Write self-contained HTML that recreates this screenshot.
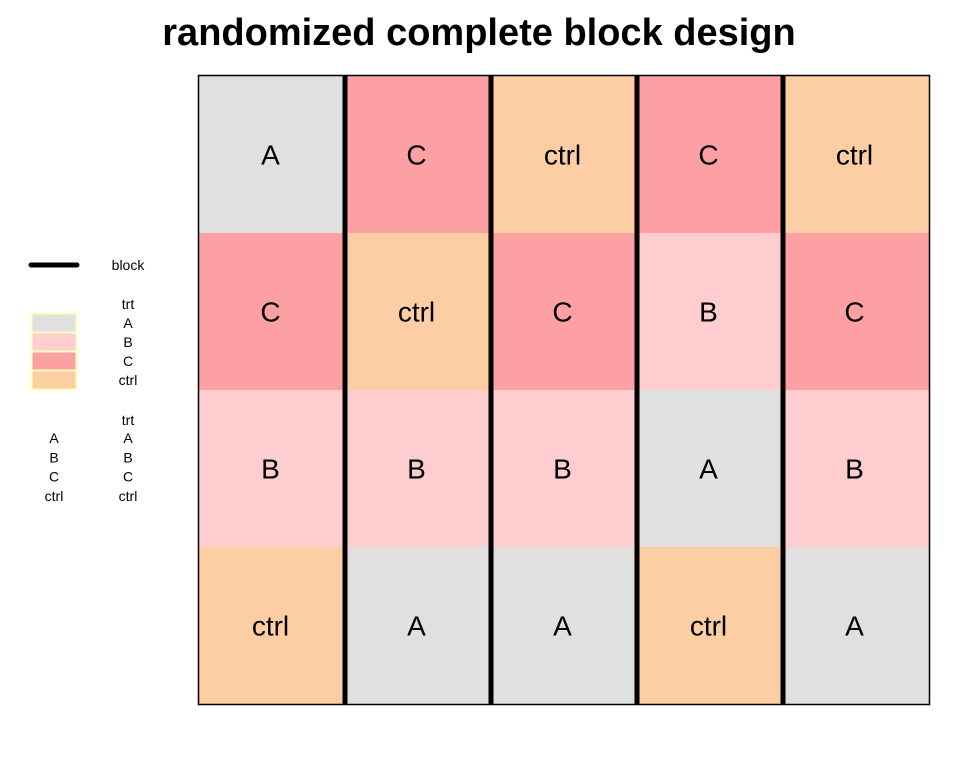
<!DOCTYPE html>
<html><head><meta charset="utf-8"><style>
body{margin:0;background:#fff;font-family:"Liberation Sans",sans-serif}
</style></head><body>
<svg width="960" height="768" xmlns="http://www.w3.org/2000/svg">
<text x="479" y="45" text-anchor="middle" font-size="38" font-weight="bold" font-family="Liberation Sans, sans-serif">randomized complete block design</text>
<g id="cells"></g>
<g id="lines"></g>
<rect x="198.5" y="75.5" width="731" height="629" fill="none" stroke="#000" stroke-width="1.5"/>
<g id="legend" font-family="Liberation Sans, sans-serif" font-size="14" text-anchor="middle"></g>
</svg>
<script>
const treatments = ["A","B","C","ctrl"];
const fills = ["#e0e0e0","#fdcdd0","#fca0a4","#fdcea3"];
const blocks = [1,2,3,4,5];
// layout[block][row] top to bottom
const layout = [
  ["A","C","B","ctrl"],
  ["C","ctrl","B","A"],
  ["ctrl","C","B","A"],
  ["C","B","A","ctrl"],
  ["ctrl","C","B","A"]
];
const NS="http://www.w3.org/2000/svg";
const x0=199,x1=929,y0=76,y1=704;
const nR=layout[0].length;
const cw=(x1-x0)/blocks.length, rh=(y1-y0)/nR;
function xs(b){return x0+b*cw;}
function ys(r){return y0+r*rh;}
const cells=document.getElementById('cells');
layout.forEach((col,b)=>col.forEach((t,r)=>{
  const rect=document.createElementNS(NS,'rect');
  rect.setAttribute('x',xs(b));rect.setAttribute('y',ys(r));
  rect.setAttribute('width',cw+0.5);rect.setAttribute('height',rh+0.5);
  rect.setAttribute('fill',fills[treatments.indexOf(t)]);
  
  
  cells.appendChild(rect);
  const tx=document.createElementNS(NS,'text');
  tx.setAttribute('x',xs(b)+cw/2-1.5);tx.setAttribute('y',ys(r)+rh/2+10);
  tx.setAttribute('text-anchor','middle');tx.setAttribute('font-size','28');
  tx.textContent=t;
  
  
  cells.appendChild(tx);
}));
const lines=document.getElementById('lines');
blocks.slice(1).forEach((b,i)=>{
  const l=document.createElementNS(NS,'line');
  const x=xs(i+1);
  l.setAttribute('x1',x);l.setAttribute('x2',x);l.setAttribute('y1',y0);l.setAttribute('y2',y1);
  l.setAttribute('stroke','#000');l.setAttribute('stroke-width','5');
  
  
  lines.appendChild(l);
});
const lg=document.getElementById('legend');
function txt(x,y,s,name){const t=document.createElementNS(NS,'text');t.setAttribute('x',x);t.setAttribute('y',y);t.textContent=s;
  
  
  lg.appendChild(t);}
const bl=document.createElementNS(NS,'line');
bl.setAttribute('x1',31);bl.setAttribute('x2',77);bl.setAttribute('y1',265);bl.setAttribute('y2',265);
bl.setAttribute('stroke','#000');bl.setAttribute('stroke-width','5');bl.setAttribute('stroke-linecap','round');


lg.appendChild(bl);
txt(128,270,'block','legend-block-label');
txt(128,309,'trt','legend-trt-title');
treatments.forEach((t,i)=>{
  const r=document.createElementNS(NS,'rect');
  r.setAttribute('x',31.5);r.setAttribute('y',313.5+i*19);r.setAttribute('width',45);r.setAttribute('height',19);
  r.setAttribute('fill',fills[i]);r.setAttribute('stroke','#ffffc0');r.setAttribute('stroke-width','2');
  
  
  lg.appendChild(r);
  txt(128,328+i*19,t,'legend-entry');
});
txt(128,425,'trt','legend-trt-title-2');
treatments.forEach((t,i)=>{
  txt(54,443+i*19.3,t,'legend-letter');
  txt(128,443+i*19.3,t,'legend-entry-2');
});
</script>
</body></html>
